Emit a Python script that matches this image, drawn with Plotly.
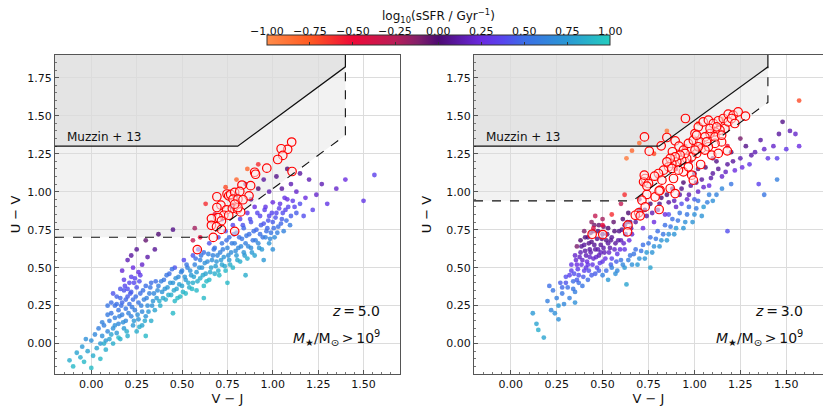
import plotly.graph_objects as go
from plotly.subplots import make_subplots

# colour scale of log10(sSFR / Gyr^-1), from -1 to 1
SSFR_COLORS = [
    [0.0, "#ff8c4a"], [0.125, "#ff5a22"], [0.25, "#ee0a38"], [0.375, "#b81e58"],
    [0.44, "#82206a"], [0.5, "#4d0a72"], [0.625, "#6a2ae0"], [0.69, "#5646ee"],
    [0.75, "#3c6ee6"], [0.875, "#2a98d4"], [1.0, "#24cdbf"],
]
CBAR_TICKS = [-1, -0.75, -0.5, -0.25, 0, 0.25, 0.5, 0.75, 1]

# Muzzin+13 selection (solid) and shifted selection (dashed): (UV floor, intercept)
MUZZIN = (1.3, 0.59)
SLOPE = 0.88
VJ_MAX = 1.4
Z5_SHIFTED = (0.7, 0.14)
Z3_SHIFTED = (0.94, 0.356)

# z = 5.0 galaxies: (V-J, U-V, log sSFR)
z5_points = [
    (-0.12, -0.11, 0.85), (-0.10, -0.15, 0.9), (-0.08, -0.06, 0.8), (-0.06, -0.09, 0.85),
    (-0.05, -0.02, 0.75), (-0.04, -0.12, 0.9), (-0.03, 0.03, 0.7), (-0.02, -0.05, 0.8),
    (0.0, -0.16, 0.92), (0.0, 0.02, 0.7), (0.01, -0.08, 0.85), (0.02, 0.06, 0.65),
    (0.03, -0.03, 0.8), (0.04, 0.10, 0.6), (0.05, 0.0, 0.75), (0.05, -0.10, 0.9),
    (0.06, 0.05, 0.7), (0.07, 0.12, 0.6), (0.08, -0.04, 0.85), (0.08, 0.02, 0.75),
    (0.09, 0.08, 0.65), (0.10, 0.15, 0.6), (0.10, 0.03, 0.8), (0.11, 0.20, 0.55),
    (0.12, 0.10, 0.7), (0.12, 0.0, 0.85), (0.13, 0.17, 0.6), (0.13, 0.25, 0.52),
    (0.14, 0.07, 0.75), (0.15, 0.22, 0.55), (0.15, 0.13, 0.65), (0.16, 0.30, 0.48),
    (0.16, 0.03, 0.85), (0.17, 0.19, 0.6), (0.17, 0.27, 0.48), (0.18, 0.10, 0.75),
    (0.18, 0.35, 0.42), (0.19, 0.23, 0.55), (0.19, 0.15, 0.65), (0.20, 0.31, 0.45),
    (0.20, 0.05, 0.85), (0.21, 0.40, 0.38), (0.21, 0.26, 0.52), (0.22, 0.18, 0.62),
    (0.22, 0.34, 0.45), (0.23, 0.12, 0.75), (0.23, 0.29, 0.5), (0.24, 0.43, 0.36),
    (0.24, 0.22, 0.6), (0.25, 0.37, 0.42), (0.25, 0.08, 0.85), (0.26, 0.27, 0.55),
    (0.26, 0.16, 0.72), (0.27, 0.33, 0.5), (0.27, 0.45, 0.33), (0.28, 0.21, 0.65),
    (0.28, 0.12, 0.8), (0.29, 0.29, 0.6), (0.30, 0.38, 0.5), (0.30, 0.18, 0.72),
    (0.31, 0.25, 0.68), (0.32, 0.33, 0.6), (0.33, 0.15, 0.85), (0.33, 0.40, 0.5),
    (0.34, 0.28, 0.72), (0.35, 0.22, 0.8), (0.12, 0.33, 0.42), (0.09, 0.25, 0.55),
    (0.06, 0.14, 0.62), (0.07, 0.0, 0.85), (0.09, 0.19, 0.58), (0.11, 0.06, 0.8),
    (0.11, 0.27, 0.5), (0.13, 0.12, 0.7), (0.14, 0.31, 0.46), (0.15, 0.04, 0.9),
    (0.155, 0.18, 0.62), (0.165, 0.25, 0.5), (0.175, 0.14, 0.7), (0.185, 0.38, 0.38),
    (0.19, 0.29, 0.48), (0.195, 0.08, 0.85), (0.205, 0.20, 0.62), (0.215, 0.33, 0.44),
    (0.225, 0.24, 0.58), (0.235, 0.40, 0.38), (0.235, 0.15, 0.75), (0.245, 0.31, 0.5),
    (0.255, 0.19, 0.7), (0.265, 0.41, 0.4), (0.265, 0.11, 0.85), (0.275, 0.25, 0.62),
    (0.285, 0.35, 0.52), (0.295, 0.15, 0.82), (0.305, 0.30, 0.62), (0.315, 0.21, 0.75),
    (0.325, 0.37, 0.55), (0.335, 0.25, 0.72), (0.345, 0.33, 0.65), (0.355, 0.41, 0.5),
    (0.20, 0.36, 0.4), (0.18, 0.42, 0.33), (0.22, 0.44, 0.35), (0.16, 0.36, 0.42),
    (0.14, 0.26, 0.52),
    (0.17, 0.48, 0.22), (0.20, 0.55, 0.15), (0.23, 0.50, 0.25), (0.25, 0.62, 0.08),
    (0.28, 0.52, 0.2), (0.30, 0.68, -0.05), (0.31, 0.57, 0.12), (0.35, 0.62, 0.08),
    (0.37, 0.72, 0.0), (0.26, 0.47, 0.28), (0.22, 0.58, 0.1), (0.45, 0.75, 0.05),
    (0.57, 0.76, -0.2),
    (0.36, 0.30, 0.75), (0.37, 0.38, 0.6), (0.38, 0.25, 0.85), (0.39, 0.34, 0.72),
    (0.40, 0.42, 0.55), (0.41, 0.29, 0.85), (0.42, 0.37, 0.75), (0.43, 0.46, 0.5),
    (0.44, 0.32, 0.85), (0.45, 0.40, 0.72), (0.46, 0.28, 0.9), (0.46, 0.50, 0.42),
    (0.47, 0.36, 0.8), (0.48, 0.44, 0.68), (0.49, 0.31, 0.9), (0.50, 0.48, 0.6),
    (0.50, 0.38, 0.8), (0.51, 0.55, 0.38), (0.52, 0.42, 0.75), (0.52, 0.33, 0.9),
    (0.53, 0.50, 0.62), (0.54, 0.37, 0.85), (0.55, 0.45, 0.75), (0.56, 0.58, 0.42),
    (0.56, 0.40, 0.85), (0.57, 0.52, 0.62), (0.58, 0.35, 0.9), (0.58, 0.47, 0.75),
    (0.59, 0.62, 0.38), (0.60, 0.43, 0.85), (0.60, 0.55, 0.62), (0.61, 0.50, 0.72),
    (0.62, 0.38, 0.92), (0.62, 0.60, 0.5), (0.63, 0.46, 0.8), (0.64, 0.54, 0.68),
    (0.65, 0.66, 0.42), (0.65, 0.42, 0.9), (0.66, 0.50, 0.8), (0.67, 0.58, 0.62),
    (0.68, 0.46, 0.85), (0.68, 0.63, 0.55), (0.69, 0.54, 0.72), (0.70, 0.70, 0.42),
    (0.70, 0.48, 0.85), (0.71, 0.60, 0.62),
    (0.365, 0.35, 0.68), (0.375, 0.28, 0.85), (0.385, 0.41, 0.6), (0.395, 0.30, 0.82),
    (0.405, 0.36, 0.72), (0.415, 0.45, 0.55), (0.425, 0.32, 0.85), (0.435, 0.40, 0.72),
    (0.445, 0.49, 0.5), (0.455, 0.35, 0.82), (0.465, 0.43, 0.7), (0.475, 0.30, 0.9),
    (0.485, 0.39, 0.78), (0.495, 0.47, 0.62), (0.505, 0.34, 0.88), (0.515, 0.44, 0.72),
    (0.525, 0.52, 0.55), (0.535, 0.40, 0.82), (0.545, 0.48, 0.7), (0.555, 0.36, 0.9),
    (0.565, 0.44, 0.8), (0.575, 0.56, 0.5), (0.585, 0.41, 0.85), (0.595, 0.50, 0.72),
    (0.605, 0.58, 0.55), (0.615, 0.45, 0.82), (0.625, 0.53, 0.7), (0.635, 0.41, 0.9),
    (0.645, 0.59, 0.6), (0.655, 0.47, 0.82), (0.665, 0.55, 0.7), (0.675, 0.62, 0.55),
    (0.685, 0.51, 0.78), (0.695, 0.58, 0.65), (0.705, 0.45, 0.9), (0.715, 0.55, 0.75),
    (0.725, 0.62, 0.6), (0.735, 0.51, 0.82), (0.745, 0.68, 0.5), (0.755, 0.58, 0.7),
    (0.765, 0.52, 0.85), (0.775, 0.66, 0.58), (0.785, 0.72, 0.48), (0.795, 0.61, 0.68),
    (0.805, 0.55, 0.82), (0.815, 0.70, 0.52), (0.825, 0.64, 0.65), (0.835, 0.78, 0.42),
    (0.845, 0.58, 0.78), (0.855, 0.71, 0.55), (0.865, 0.64, 0.65), (0.875, 0.82, 0.4),
    (0.885, 0.60, 0.75), (0.895, 0.74, 0.5), (0.905, 0.68, 0.6), (0.915, 0.86, 0.38),
    (0.925, 0.63, 0.72), (0.935, 0.78, 0.45), (0.945, 0.70, 0.55), (0.955, 0.88, 0.35),
    (0.965, 0.74, 0.52), (0.975, 0.81, 0.42), (0.985, 0.69, 0.65), (0.995, 0.86, 0.38),
    (1.005, 0.76, 0.5), (1.015, 0.83, 0.42), (1.025, 0.73, 0.6), (1.035, 0.89, 0.35),
    (1.045, 0.79, 0.48), (1.055, 0.86, 0.4), (1.065, 0.96, 0.28), (1.075, 0.81, 0.5),
    (1.085, 0.90, 0.38), (1.095, 0.78, 0.58), (1.11, 0.94, 0.32), (1.13, 0.86, 0.45),
    (1.15, 0.92, 0.4),
    (0.72, 0.52, 0.8), (0.72, 0.66, 0.55), (0.73, 0.57, 0.72), (0.74, 0.74, 0.4),
    (0.74, 0.48, 0.9), (0.75, 0.63, 0.65), (0.76, 0.55, 0.75), (0.76, 0.70, 0.52),
    (0.77, 0.60, 0.68), (0.78, 0.78, 0.38), (0.78, 0.50, 0.88), (0.79, 0.66, 0.6),
    (0.80, 0.58, 0.75), (0.80, 0.73, 0.52), (0.81, 0.63, 0.65), (0.82, 0.82, 0.32),
    (0.82, 0.54, 0.85), (0.83, 0.69, 0.55), (0.84, 0.60, 0.72), (0.84, 0.76, 0.48),
    (0.85, 0.66, 0.6), (0.86, 0.86, 0.28), (0.86, 0.56, 0.85), (0.87, 0.72, 0.52),
    (0.88, 0.63, 0.68), (0.88, 0.80, 0.42), (0.89, 0.68, 0.55), (0.90, 0.58, 0.8),
    (0.90, 0.90, 0.25),
    (0.91, 0.75, 0.48), (0.92, 0.66, 0.65), (0.93, 0.84, 0.38), (0.93, 0.72, 0.52),
    (0.94, 0.62, 0.75), (0.95, 0.79, 0.42), (0.96, 0.70, 0.6), (0.96, 0.90, 0.3),
    (0.97, 0.76, 0.48), (0.98, 0.66, 0.72), (0.98, 0.84, 0.38), (0.99, 0.73, 0.55),
    (1.00, 0.80, 0.45), (1.00, 0.93, 0.25), (1.01, 0.70, 0.68), (1.02, 0.86, 0.38),
    (1.03, 0.77, 0.52), (1.04, 0.92, 0.3), (1.05, 0.82, 0.45), (1.06, 0.74, 0.62),
    (1.07, 0.88, 0.36), (1.08, 0.95, 0.25), (1.10, 0.84, 0.45), (1.12, 0.90, 0.36),
    (0.72, 0.82, 0.1), (0.78, 0.90, 0.05), (0.80, 0.98, 0.0), (0.85, 1.05, -0.1),
    (0.88, 0.95, 0.05), (0.92, 1.02, 0.0), (0.95, 1.08, 0.1), (0.98, 1.00, 0.15),
    (1.02, 1.10, 0.05), (1.05, 1.02, 0.1), (1.08, 1.15, 0.0), (1.10, 1.05, 0.15),
    (1.13, 1.00, 0.2), (1.15, 1.12, 0.1), (1.18, 0.96, 0.25), (1.20, 1.08, 0.15),
    (1.24, 0.98, 0.2), (1.27, 1.05, 0.15), (1.30, 0.92, 0.3), (1.35, 1.02, 0.2),
    (1.40, 1.08, 0.25), (1.50, 0.94, 0.3), (1.56, 1.11, 0.35), (1.22, 0.88, 0.35),
    (1.17, 0.84, 0.4),
    (0.74, 1.03, -0.7), (0.80, 1.08, -0.8), (0.63, 0.92, -0.6), (0.60, 0.70, -0.5),
    (0.56, 0.68, -0.3), (0.68, 0.85, -0.5), (0.92, 1.18, -0.6), (0.86, 1.15, -0.8),
    (0.62, 0.30, 0.9), (0.75, 0.40, 0.9), (0.85, 0.45, 0.85), (0.95, 0.55, 0.75),
    (1.00, 0.62, 0.7), (0.45, 0.20, 0.9), (0.30, 0.05, 0.9),
]

# z = 5.0 quiescent galaxies (red circles): (V-J, U-V)
z5_quiescent = [
    (1.104, 1.327), (1.082, 1.279), (1.046, 1.283), (1.055, 1.239), (1.027, 1.212),
    (0.967, 1.155), (0.900, 1.128), (0.905, 1.115), (1.106, 1.133), (0.830, 1.044),
    (0.878, 1.040), (0.748, 0.985), (0.757, 0.973), (0.768, 0.982), (0.790, 0.996),
    (0.818, 1.002), (0.692, 0.967), (0.869, 0.973), (0.781, 0.951), (0.808, 0.951),
    (0.836, 0.947), (0.714, 0.912), (0.692, 0.896), (0.745, 0.881), (0.777, 0.889),
    (0.805, 0.885), (0.823, 0.867), (0.730, 0.845), (0.757, 0.845), (0.699, 0.830),
    (0.662, 0.823), (0.717, 0.808), (0.662, 0.779), (0.690, 0.770), (0.790, 0.739),
    (0.717, 0.752), (0.672, 0.699), (0.584, 0.619), (0.808, 0.896), (0.790, 0.918),
]

# z = 3.0 galaxies: (V-J, U-V, log sSFR)
z3_points = [
    (0.12, 0.20, 0.75), (0.14, 0.13, 0.8), (0.15, 0.09, 0.85), (0.18, 0.04, 0.8),
    (0.20, 0.28, 0.6), (0.22, 0.22, 0.65), (0.23, 0.35, 0.55), (0.24, 0.20, 0.7),
    (0.25, 0.30, 0.6), (0.26, 0.16, 0.7), (0.27, 0.40, 0.45), (0.28, 0.33, 0.55),
    (0.29, 0.26, 0.65), (0.30, 0.44, 0.4), (0.31, 0.37, 0.5), (0.32, 0.30, 0.6),
    (0.33, 0.48, 0.35), (0.34, 0.41, 0.5), (0.35, 0.34, 0.6), (0.35, 0.27, 0.7),
    (0.21, 0.38, 0.5), (0.26, 0.25, 0.75),
    (0.36, 0.52, 0.25), (0.37, 0.45, 0.4), (0.38, 0.60, 0.15), (0.39, 0.55, 0.2),
    (0.40, 0.48, 0.35), (0.40, 0.65, 0.1), (0.41, 0.58, 0.15), (0.42, 0.70, 0.05),
    (0.42, 0.52, 0.3), (0.43, 0.62, 0.1), (0.44, 0.45, 0.45), (0.44, 0.67, 0.05),
    (0.45, 0.56, 0.2), (0.45, 0.74, 0.0), (0.46, 0.62, 0.1), (0.47, 0.50, 0.35),
    (0.47, 0.69, 0.05), (0.48, 0.58, 0.15), (0.48, 0.78, -0.05), (0.49, 0.65, 0.08),
    (0.50, 0.54, 0.3), (0.50, 0.72, 0.05), (0.51, 0.60, 0.15), (0.52, 0.68, 0.05),
    (0.52, 0.48, 0.5), (0.53, 0.76, 0.0), (0.54, 0.63, 0.12), (0.55, 0.56, 0.35),
    (0.55, 0.70, 0.08), (0.56, 0.80, -0.05), (0.57, 0.66, 0.1), (0.58, 0.59, 0.3),
    (0.59, 0.74, 0.05), (0.60, 0.68, 0.15), (0.61, 0.82, 0.0), (0.62, 0.62, 0.3),
    (0.38, 0.68, 0.0), (0.35, 0.58, 0.2), (0.33, 0.52, 0.3), (0.44, 0.80, -0.15),
    (0.40, 0.74, -0.1), (0.50, 0.82, -0.2), (0.36, 0.64, -0.1), (0.46, 0.84, -0.3),
    (0.43, 0.57, 0.2), (0.49, 0.60, 0.18), (0.53, 0.66, 0.1), (0.41, 0.50, 0.3),
    (0.345, 0.46, 0.4), (0.355, 0.55, 0.22), (0.365, 0.49, 0.32), (0.375, 0.57, 0.18),
    (0.385, 0.52, 0.28), (0.385, 0.64, 0.08), (0.395, 0.44, 0.45), (0.405, 0.61, 0.12),
    (0.405, 0.70, 0.02), (0.415, 0.54, 0.25), (0.425, 0.66, 0.06), (0.425, 0.48, 0.4),
    (0.435, 0.60, 0.14), (0.435, 0.73, -0.02), (0.445, 0.52, 0.3), (0.455, 0.65, 0.08),
    (0.455, 0.78, -0.08), (0.465, 0.57, 0.2), (0.475, 0.62, 0.12), (0.475, 0.74, 0.0),
    (0.485, 0.53, 0.32), (0.495, 0.69, 0.05), (0.505, 0.63, 0.12), (0.505, 0.77, -0.05),
    (0.515, 0.56, 0.28), (0.525, 0.72, 0.04), (0.535, 0.60, 0.2), (0.545, 0.68, 0.08),
    (0.545, 0.52, 0.45), (0.565, 0.62, 0.2), (0.565, 0.74, 0.02), (0.575, 0.54, 0.45),
    (0.585, 0.68, 0.12), (0.595, 0.62, 0.25), (0.605, 0.75, 0.05), (0.615, 0.66, 0.2),
    (0.625, 0.72, 0.1), (0.635, 0.80, 0.0), (0.645, 0.68, 0.25), (0.655, 0.76, 0.1),
    (0.32, 0.45, 0.35), (0.30, 0.40, 0.42), (0.28, 0.37, 0.48), (0.37, 0.40, 0.5),
    (0.39, 0.38, 0.55), (0.42, 0.42, 0.5), (0.46, 0.46, 0.45), (0.48, 0.48, 0.45),
    (0.34, 0.36, 0.55), (0.36, 0.42, 0.45),
    (0.50, 0.45, 0.6), (0.53, 0.42, 0.75), (0.55, 0.50, 0.6), (0.57, 0.46, 0.7),
    (0.60, 0.55, 0.55), (0.62, 0.50, 0.75), (0.63, 0.39, 0.8), (0.65, 0.58, 0.55),
    (0.66, 0.52, 0.7), (0.68, 0.62, 0.5), (0.70, 0.56, 0.7), (0.72, 0.65, 0.5),
    (0.74, 0.60, 0.75), (0.76, 0.50, 0.8), (0.76, 0.70, 0.5), (0.78, 0.64, 0.7),
    (0.80, 0.74, 0.5), (0.82, 0.68, 0.72), (0.84, 0.78, 0.5), (0.86, 0.72, 0.7),
    (0.88, 0.82, 0.5), (0.90, 0.76, 0.75), (0.92, 0.86, 0.55), (0.95, 0.80, 0.7),
    (0.97, 0.90, 0.55), (1.00, 0.85, 0.7), (1.02, 0.94, 0.55), (1.05, 0.90, 0.75),
    (1.08, 0.98, 0.6), (1.10, 0.94, 0.7), (1.15, 1.02, 0.65), (1.18, 0.74, 0.4),
    (1.20, 1.05, 0.55), (1.38, 0.98, 0.55), (1.45, 1.08, 0.6),
    (0.58, 0.48, 0.65), (0.61, 0.52, 0.65), (0.64, 0.55, 0.6), (0.67, 0.59, 0.55),
    (0.69, 0.52, 0.75), (0.71, 0.61, 0.55), (0.73, 0.56, 0.72), (0.75, 0.66, 0.55),
    (0.77, 0.60, 0.72), (0.79, 0.69, 0.55), (0.81, 0.64, 0.72), (0.83, 0.72, 0.55),
    (0.85, 0.68, 0.75), (0.87, 0.77, 0.55), (0.89, 0.72, 0.72), (0.91, 0.81, 0.55),
    (0.94, 0.76, 0.72), (0.96, 0.85, 0.55), (0.99, 0.80, 0.72), (1.01, 0.89, 0.58),
    (1.04, 0.84, 0.72), (1.07, 0.93, 0.6), (1.12, 0.98, 0.62), (1.00, 0.95, 0.45),
    (0.93, 0.92, 0.4), (0.86, 0.85, 0.4),
    (0.62, 0.78, 0.1), (0.64, 0.86, 0.0), (0.66, 0.72, 0.2), (0.68, 0.80, 0.1),
    (0.70, 0.88, 0.0), (0.72, 0.76, 0.25), (0.74, 0.84, 0.1), (0.76, 0.92, 0.0),
    (0.78, 0.80, 0.25), (0.80, 0.88, 0.12), (0.82, 0.96, 0.0), (0.84, 0.85, 0.25),
    (0.86, 0.93, 0.1), (0.88, 1.02, -0.05), (0.90, 0.90, 0.2), (0.92, 0.98, 0.1),
    (0.94, 1.06, 0.0), (0.96, 0.95, 0.2), (0.98, 1.04, 0.1), (1.00, 1.12, 0.0),
    (1.02, 1.00, 0.2), (1.04, 1.08, 0.1), (1.06, 1.16, 0.0), (1.08, 1.04, 0.25),
    (1.10, 1.12, 0.1), (1.12, 1.20, 0.05), (1.15, 1.10, 0.2), (1.18, 1.18, 0.1),
    (1.20, 1.26, 0.0), (1.22, 1.14, 0.25), (1.25, 1.22, 0.15), (1.28, 1.30, 0.05),
    (1.30, 1.18, 0.3), (1.33, 1.26, 0.15), (1.36, 1.34, 0.1), (1.40, 1.22, 0.3),
    (1.43, 1.30, 0.2), (1.46, 1.38, 0.1), (1.50, 1.28, 0.3), (1.52, 1.40, 0.15),
    (1.48, 1.46, 0.05), (1.55, 1.38, 0.2), (1.57, 1.60, -0.7), (1.57, 1.30, 0.25),
    (1.35, 1.05, 0.35),
    (0.65, 0.80, 0.05), (0.69, 0.84, 0.05), (0.73, 0.88, 0.02), (0.77, 0.86, 0.15),
    (0.81, 0.92, 0.05), (0.85, 0.98, 0.0), (0.89, 0.94, 0.15), (0.93, 1.02, 0.05),
    (0.97, 0.98, 0.15), (1.01, 1.06, 0.05), (1.05, 1.03, 0.2), (1.09, 1.09, 0.12),
    (1.13, 1.15, 0.08), (1.17, 1.13, 0.18), (1.21, 1.20, 0.1), (1.26, 1.16, 0.25),
    (1.31, 1.24, 0.12), (1.38, 1.28, 0.2), (1.45, 1.22, 0.35), (1.10, 1.22, -0.1),
    (1.02, 1.15, -0.05), (1.25, 1.35, -0.1),
    (0.66, 1.27, -0.8), (0.63, 1.22, -0.9), (0.62, 0.98, -0.6), (0.70, 1.32, -0.85),
    (0.78, 1.25, -0.7), (0.85, 1.40, -0.9), (0.95, 1.30, -0.6), (1.02, 1.45, -0.8),
    (1.10, 1.38, -0.7), (1.15, 1.48, -0.9), (0.90, 1.15, -0.5), (0.98, 1.20, -0.4),
    (1.18, 1.30, -0.5), (0.72, 1.05, -0.5), (0.80, 1.10, -0.4), (0.55, 0.85, -0.6),
    (0.50, 0.78, -0.5), (0.45, 0.76, -0.4), (0.60, 0.92, -0.3), (0.70, 0.95, -0.2),
]

# z = 3.0 quiescent galaxies (red circles): (V-J, U-V)
z3_quiescent = [
    (0.728, 1.361), (0.754, 1.267), (0.819, 1.302), (0.951, 1.482), (0.850, 1.357),
    (0.895, 1.335), (0.916, 1.300), (0.880, 1.263), (0.940, 1.274), (0.967, 1.318),
    (0.994, 1.339), (1.003, 1.383), (1.021, 1.427), (1.048, 1.460), (1.076, 1.471),
    (1.103, 1.449), (1.130, 1.467), (1.157, 1.482), (1.184, 1.511), (1.211, 1.504),
    (1.238, 1.526), (1.278, 1.498), (1.166, 1.416), (1.139, 1.405), (1.112, 1.394),
    (1.085, 1.383), (1.057, 1.361), (1.030, 1.328), (1.039, 1.285), (1.012, 1.252),
    (0.985, 1.230), (0.958, 1.219), (0.931, 1.208), (0.904, 1.197), (0.877, 1.186),
    (0.859, 1.164), (0.832, 1.142), (0.804, 1.120), (0.783, 1.102), (0.732, 1.087),
    (0.723, 1.065), (0.750, 1.054), (0.823, 1.076), (0.886, 1.087), (0.940, 1.131),
    (0.985, 1.109), (0.994, 1.076), (0.967, 1.164), (1.034, 1.179), (1.094, 1.241),
    (1.130, 1.252), (1.179, 1.269), (1.148, 1.328), (1.112, 1.318), (1.076, 1.296),
    (1.057, 1.274), (1.021, 1.296), (1.003, 1.274), (0.949, 1.252), (0.922, 1.241),
    (0.895, 1.230), (0.868, 1.219), (0.850, 1.197), (0.877, 1.153), (0.913, 1.142),
    (0.813, 1.010), (0.786, 0.966), (0.741, 0.982), (0.714, 0.944), (0.732, 0.900),
    (0.696, 0.861), (0.678, 0.845), (0.705, 0.841), (0.808, 0.883), (0.868, 1.021),
    (0.895, 0.988), (0.638, 0.780), (0.636, 0.736), (0.501, 0.718), (0.443, 0.720),
    (1.184, 1.460), (1.202, 1.482), (1.220, 1.449), (1.085, 1.416), (1.112, 1.361),
    (1.066, 1.328), (1.012, 1.372), (1.121, 1.427), (1.148, 1.372), (0.727, 1.109),
    (0.741, 1.037), (0.808, 1.006),
]

PANELS = [
    (z5_points, z5_quiescent, Z5_SHIFTED, "5.0"),
    (z3_points, z3_quiescent, Z3_SHIFTED, "3.0"),
]

XR = [-0.2, 1.7]
YR = [-0.2, 1.9]
FONT = "DejaVu Sans"
INK = "#111111"
THIN = "\u2009"

# colour bar placement in paper units
CB_X0, CB_X1 = 0.2757, 0.7227

fig = make_subplots(rows=1, cols=2, horizontal_spacing=0.0965)

for i, (pts, qs, shifted, zlab) in enumerate(PANELS, start=1):
    xa = "x" if i == 1 else f"x{i}"
    ya = "y" if i == 1 else f"y{i}"

    fig.add_trace(
        go.Scatter(
            x=[p[0] for p in pts],
            y=[p[1] for p in pts],
            mode="markers",
            marker=dict(
                size=4.8,
                color=[p[2] for p in pts],
                colorscale=SSFR_COLORS,
                cmin=-1,
                cmax=1,
                opacity=0.8,
                showscale=(i == 1),
                colorbar=dict(
                    orientation="h",
                    x=(CB_X0 + CB_X1) / 2,
                    xanchor="center",
                    y=1.018,
                    yanchor="bottom",
                    len=CB_X1 - CB_X0,
                    lenmode="fraction",
                    thickness=10,
                    xpad=0,
                    ypad=0,
                    outlinewidth=1,
                    outlinecolor="#333333",
                    tickvals=CBAR_TICKS,
                    ticks="inside",
                    ticklen=3,
                    tickcolor="#333333",
                    showticklabels=False,
                ),
            ),
            showlegend=False,
            hoverinfo="skip",
        ),
        row=1,
        col=i,
    )

    fig.add_trace(
        go.Scatter(
            x=[q[0] for q in qs],
            y=[q[1] for q in qs],
            mode="markers",
            marker=dict(
                size=8.5,
                color="rgba(255,235,235,0.55)",
                line=dict(color="#ff0000", width=1.2),
            ),
            showlegend=False,
            hoverinfo="skip",
        ),
        row=1,
        col=i,
    )

    # selection boxes
    uv0, c0 = MUZZIN
    vj0 = (uv0 - c0) / SLOPE
    uv_top = SLOPE * VJ_MAX + c0
    uv1, c1 = shifted
    vj1 = (uv1 - c1) / SLOPE
    uv1_top = SLOPE * VJ_MAX + c1

    fig.add_shape(
        type="path",
        path=f"M {XR[0]},{uv1} L {vj1},{uv1} L {VJ_MAX},{uv1_top} L {VJ_MAX},{YR[1]} L {XR[0]},{YR[1]} Z",
        fillcolor="#f2f2f2", line_width=0, layer="below", xref=xa, yref=ya,
    )
    fig.add_shape(
        type="path",
        path=f"M {XR[0]},{uv0} L {vj0},{uv0} L {VJ_MAX},{uv_top} L {VJ_MAX},{YR[1]} L {XR[0]},{YR[1]} Z",
        fillcolor="#e4e4e4", line_width=0, layer="below", xref=xa, yref=ya,
    )
    fig.add_shape(
        type="path",
        path=f"M {XR[0]},{uv0} L {vj0},{uv0} L {VJ_MAX},{uv_top} L {VJ_MAX},{YR[1]}",
        line=dict(color=INK, width=1.2), xref=xa, yref=ya,
    )
    fig.add_shape(
        type="path",
        path=f"M {XR[0]},{uv1} L {vj1},{uv1} L {VJ_MAX},{uv1_top} L {VJ_MAX},{uv_top}",
        line=dict(color=INK, width=1.1, dash="dash"), xref=xa, yref=ya,
    )

    fig.add_annotation(
        x=-0.145, y=1.36, xref=xa, yref=ya, xanchor="left", showarrow=False,
        text="Muzzin + 13", font=dict(family=FONT, size=12, color=INK),
    )
    fig.add_annotation(
        x=1.6, y=0.215, xref=xa, yref=ya, xanchor="right", showarrow=False,
        text=f"<i>z</i>{THIN}={THIN}{zlab}", font=dict(family=FONT, size=14, color=INK),
    )
    fig.add_annotation(
        x=1.6, y=0.04, xref=xa, yref=ya, xanchor="right", showarrow=False,
        text=f"<i>M</i><sub>★</sub>/M<sub>⊙</sub>{THIN}>{THIN}10<sup>9</sup>",
        font=dict(family=FONT, size=14, color=INK),
    )

# colour bar tick labels and title, above the bar
for v in CBAR_TICKS:
    fig.add_annotation(
        x=CB_X0 + (v + 1) / 2 * (CB_X1 - CB_X0), y=1.075,
        xref="paper", yref="paper", xanchor="center", yanchor="middle", showarrow=False,
        text=f"{v:.2f}".replace("-", "−"),
        font=dict(family=FONT, size=11, color=INK),
    )
fig.add_annotation(
    x=(CB_X0 + CB_X1) / 2, y=1.121, xref="paper", yref="paper",
    xanchor="center", yanchor="middle",
    showarrow=False, text="log<sub>10</sub>(sSFR / Gyr<sup>−1</sup>)",
    font=dict(family=FONT, size=12, color=INK),
)

axis_common = dict(
    showgrid=True,
    gridcolor="#dcdcdc",
    gridwidth=1,
    zeroline=False,
    showline=True,
    linecolor="#555555",
    linewidth=1,
    mirror=True,
    ticks="inside",
    ticklen=4,
    tickcolor="#555555",
    tick0=0,
    dtick=0.25,
    tickformat=".2f",
    tickfont=dict(family=FONT, size=11, color=INK),
    minor=dict(ticks="inside", ticklen=2, dtick=0.05, tick0=0, tickcolor="#777777", showgrid=False),
)

fig.update_xaxes(axis_common, range=XR, title=dict(text="V − J", standoff=6,
                 font=dict(family=FONT, size=13, color=INK)))
fig.update_yaxes(axis_common, range=YR, title=dict(text="U − V", standoff=4,
                 font=dict(family=FONT, size=13, color=INK)))
fig.update_xaxes(domain=[0, 0.449], row=1, col=1)
fig.update_xaxes(domain=[0.5456, 1.0], row=1, col=2)

# the page puts the figure 8 px in from the top-left corner
fig.update_layout(
    width=823,
    height=408,
    margin=dict(l=47, r=8, t=47, b=42, autoexpand=False),
    paper_bgcolor="white",
    plot_bgcolor="white",
    font=dict(family=FONT),
)

fig.write_html("out.html")
